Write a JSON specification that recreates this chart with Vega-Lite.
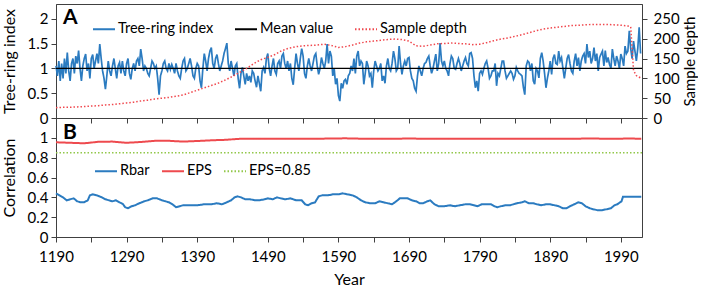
{
"$schema": "https://vega.github.io/schema/vega-lite/v6.json",
"padding": {"left": 0, "top": 3, "right": 0, "bottom": 0},
"config": {
  "font": "Lato",
  "view": {"stroke": "#404040", "strokeWidth": 1},
  "axis": {"grid": false, "domainColor": "#404040", "tickColor": "#404040", "labelColor": "#000000", "titleColor": "#000000", "labelFontSize": 15, "titleFontSize": 16, "titleFontWeight": "normal", "tickSize": 5, "labelPadding": 3, "labelOverlap": false, "labelBound": false, "labelFlush": false},
  "legend": {"labelFontSize": 14.5, "labelColor": "#000000", "symbolType": "stroke", "symbolStrokeWidth": 2, "symbolSize": 484, "padding": 0, "labelOffset": 2, "columnPadding": 17}
},
"datasets": {
  "ring": [
{"year":1190,"v":1.05},{"year":1192,"v":0.85},{"year":1194,"v":1.15},{"year":1196,"v":0.75},{"year":1198,"v":1.1},{"year":1200,"v":0.8},{"year":1202,"v":1.2},{"year":1204,"v":0.9},{"year":1206,"v":1.32},{"year":1208,"v":0.95},
{"year":1210,"v":0.75},{"year":1212,"v":1.1},{"year":1214,"v":1.2},{"year":1216,"v":0.9},{"year":1218,"v":1.25},{"year":1220,"v":1.1},{"year":1222,"v":1.36},{"year":1224,"v":1.0},{"year":1226,"v":0.75},{"year":1228,"v":1.05},
{"year":1230,"v":1.2},{"year":1232,"v":1.29},{"year":1234,"v":0.95},{"year":1236,"v":1.1},{"year":1238,"v":0.8},{"year":1240,"v":1.2},{"year":1242,"v":1.28},{"year":1244,"v":1.0},{"year":1246,"v":1.15},{"year":1248,"v":1.3},
{"year":1250,"v":1.1},{"year":1252,"v":1.49},{"year":1254,"v":1.2},{"year":1256,"v":0.95},{"year":1258,"v":0.8},{"year":1260,"v":0.58},{"year":1262,"v":0.85},{"year":1264,"v":1.15},{"year":1266,"v":0.95},{"year":1268,"v":0.85},
{"year":1270,"v":1.05},{"year":1272,"v":1.2},{"year":1274,"v":1.0},{"year":1276,"v":0.8},{"year":1278,"v":1.05},{"year":1280,"v":1.12},{"year":1282,"v":0.9},{"year":1284,"v":1.15},{"year":1286,"v":0.95},{"year":1288,"v":0.85},
{"year":1290,"v":1.1},{"year":1292,"v":1.2},{"year":1294,"v":0.9},{"year":1296,"v":0.78},{"year":1298,"v":1.0},{"year":1300,"v":1.1},{"year":1302,"v":0.95},{"year":1304,"v":1.15},{"year":1306,"v":1.2},{"year":1308,"v":1.05},
{"year":1310,"v":1.39},{"year":1312,"v":1.2},{"year":1314,"v":0.95},{"year":1316,"v":1.05},{"year":1318,"v":1.0},{"year":1320,"v":0.9},{"year":1322,"v":0.85},{"year":1324,"v":1.0},{"year":1326,"v":1.15},{"year":1328,"v":1.1},
{"year":1330,"v":1.0},{"year":1332,"v":1.05},{"year":1334,"v":0.8},{"year":1336,"v":0.47},{"year":1338,"v":0.85},{"year":1340,"v":0.95},{"year":1342,"v":1.1},{"year":1344,"v":1.15},{"year":1346,"v":1.0},{"year":1348,"v":0.95},
{"year":1350,"v":1.1},{"year":1352,"v":0.98},{"year":1354,"v":1.08},{"year":1356,"v":1.0},{"year":1358,"v":0.9},{"year":1360,"v":1.1},{"year":1362,"v":0.95},{"year":1364,"v":0.85},{"year":1366,"v":0.8},{"year":1368,"v":1.0},
{"year":1370,"v":1.15},{"year":1372,"v":1.2},{"year":1374,"v":0.95},{"year":1376,"v":1.0},{"year":1378,"v":1.1},{"year":1380,"v":1.2},{"year":1382,"v":1.05},{"year":1384,"v":0.85},{"year":1386,"v":0.8},{"year":1388,"v":1.0},
{"year":1390,"v":1.1},{"year":1392,"v":1.05},{"year":1394,"v":0.75},{"year":1396,"v":0.61},{"year":1398,"v":1.0},{"year":1400,"v":1.3},{"year":1402,"v":1.15},{"year":1404,"v":0.95},{"year":1406,"v":1.2},{"year":1408,"v":1.35},
{"year":1410,"v":1.42},{"year":1412,"v":1.1},{"year":1414,"v":1.0},{"year":1416,"v":1.2},{"year":1418,"v":1.28},{"year":1420,"v":1.1},{"year":1422,"v":0.95},{"year":1424,"v":1.05},{"year":1426,"v":1.15},{"year":1428,"v":1.3},
{"year":1430,"v":1.4},{"year":1432,"v":1.51},{"year":1434,"v":1.1},{"year":1436,"v":0.95},{"year":1438,"v":1.15},{"year":1440,"v":1.0},{"year":1442,"v":0.85},{"year":1444,"v":1.05},{"year":1446,"v":1.1},{"year":1448,"v":0.8},
{"year":1450,"v":0.6},{"year":1452,"v":0.9},{"year":1454,"v":1.02},{"year":1456,"v":0.85},{"year":1458,"v":0.68},{"year":1460,"v":0.9},{"year":1462,"v":0.75},{"year":1464,"v":0.85},{"year":1466,"v":0.72},{"year":1468,"v":0.95},
{"year":1470,"v":0.9},{"year":1472,"v":0.75},{"year":1474,"v":0.62},{"year":1476,"v":0.85},{"year":1478,"v":0.7},{"year":1480,"v":0.54},{"year":1482,"v":0.95},{"year":1484,"v":1.02},{"year":1486,"v":0.9},{"year":1488,"v":1.2},
{"year":1490,"v":1.3},{"year":1492,"v":1.0},{"year":1494,"v":0.85},{"year":1496,"v":1.05},{"year":1498,"v":1.2},{"year":1500,"v":0.95},{"year":1502,"v":0.88},{"year":1504,"v":1.1},{"year":1506,"v":1.15},{"year":1508,"v":1.0},
{"year":1510,"v":1.25},{"year":1512,"v":1.3},{"year":1514,"v":1.1},{"year":1516,"v":1.0},{"year":1518,"v":1.15},{"year":1520,"v":0.95},{"year":1522,"v":1.1},{"year":1524,"v":0.8},{"year":1526,"v":0.67},{"year":1528,"v":1.0},
{"year":1530,"v":1.3},{"year":1532,"v":1.1},{"year":1534,"v":0.95},{"year":1536,"v":1.2},{"year":1538,"v":1.4},{"year":1540,"v":1.25},{"year":1542,"v":0.9},{"year":1544,"v":0.8},{"year":1546,"v":1.05},{"year":1548,"v":1.2},
{"year":1550,"v":1.05},{"year":1552,"v":0.95},{"year":1554,"v":1.1},{"year":1556,"v":1.25},{"year":1558,"v":1.3},{"year":1560,"v":1.05},{"year":1562,"v":0.88},{"year":1564,"v":1.0},{"year":1566,"v":1.22},{"year":1568,"v":1.1},
{"year":1570,"v":1.0},{"year":1572,"v":1.15},{"year":1574,"v":1.49},{"year":1576,"v":1.1},{"year":1578,"v":1.35},{"year":1580,"v":1.25},{"year":1582,"v":0.85},{"year":1584,"v":1.0},{"year":1586,"v":0.68},{"year":1588,"v":0.8},
{"year":1590,"v":0.45},{"year":1592,"v":0.34},{"year":1594,"v":0.7},{"year":1596,"v":0.6},{"year":1598,"v":0.75},{"year":1600,"v":0.78},{"year":1602,"v":0.68},{"year":1604,"v":0.85},{"year":1606,"v":0.9},{"year":1608,"v":1.05},
{"year":1610,"v":0.95},{"year":1612,"v":1.2},{"year":1614,"v":0.9},{"year":1616,"v":1.25},{"year":1618,"v":1.35},{"year":1620,"v":1.05},{"year":1622,"v":1.15},{"year":1624,"v":1.1},{"year":1626,"v":0.68},{"year":1628,"v":0.9},
{"year":1630,"v":1.15},{"year":1632,"v":1.05},{"year":1634,"v":0.85},{"year":1636,"v":0.9},{"year":1638,"v":0.61},{"year":1640,"v":0.95},{"year":1642,"v":1.15},{"year":1644,"v":1.05},{"year":1646,"v":0.95},{"year":1648,"v":1.0},
{"year":1650,"v":1.1},{"year":1652,"v":0.75},{"year":1654,"v":0.85},{"year":1656,"v":0.7},{"year":1658,"v":1.05},{"year":1660,"v":1.2},{"year":1662,"v":1.0},{"year":1664,"v":0.95},{"year":1666,"v":1.1},{"year":1668,"v":1.35},
{"year":1670,"v":1.2},{"year":1672,"v":0.95},{"year":1674,"v":1.0},{"year":1676,"v":1.45},{"year":1678,"v":1.1},{"year":1680,"v":0.88},{"year":1682,"v":1.05},{"year":1684,"v":1.15},{"year":1686,"v":1.05},{"year":1688,"v":1.2},
{"year":1690,"v":1.22},{"year":1692,"v":0.95},{"year":1694,"v":0.8},{"year":1696,"v":0.75},{"year":1698,"v":0.6},{"year":1700,"v":0.54},{"year":1702,"v":0.85},{"year":1704,"v":1.05},{"year":1706,"v":0.95},{"year":1708,"v":0.85},
{"year":1710,"v":1.0},{"year":1712,"v":1.1},{"year":1714,"v":1.12},{"year":1716,"v":1.2},{"year":1718,"v":1.25},{"year":1720,"v":1.05},{"year":1722,"v":0.9},{"year":1724,"v":1.0},{"year":1726,"v":1.15},{"year":1728,"v":1.29},
{"year":1730,"v":0.95},{"year":1732,"v":1.1},{"year":1734,"v":1.51},{"year":1736,"v":1.15},{"year":1738,"v":1.05},{"year":1740,"v":1.15},{"year":1742,"v":1.0},{"year":1744,"v":0.95},{"year":1746,"v":0.85},{"year":1748,"v":1.1},
{"year":1750,"v":1.25},{"year":1752,"v":1.2},{"year":1754,"v":1.0},{"year":1756,"v":0.98},{"year":1758,"v":1.1},{"year":1760,"v":1.2},{"year":1762,"v":1.1},{"year":1764,"v":0.95},{"year":1766,"v":1.05},{"year":1768,"v":1.15},
{"year":1770,"v":1.22},{"year":1772,"v":1.1},{"year":1774,"v":1.05},{"year":1776,"v":1.3},{"year":1778,"v":1.32},{"year":1780,"v":1.2},{"year":1782,"v":0.85},{"year":1784,"v":0.61},{"year":1786,"v":0.75},{"year":1788,"v":0.54},
{"year":1790,"v":0.9},{"year":1792,"v":0.95},{"year":1794,"v":0.88},{"year":1796,"v":1.0},{"year":1798,"v":1.1},{"year":1800,"v":1.15},{"year":1802,"v":1.0},{"year":1804,"v":0.8},{"year":1806,"v":0.85},{"year":1808,"v":0.95},
{"year":1810,"v":0.95},{"year":1812,"v":1.1},{"year":1814,"v":0.65},{"year":1816,"v":0.9},{"year":1818,"v":0.85},{"year":1820,"v":1.0},{"year":1822,"v":1.15},{"year":1824,"v":1.15},{"year":1826,"v":0.95},{"year":1828,"v":0.8},
{"year":1830,"v":0.85},{"year":1832,"v":0.9},{"year":1834,"v":0.95},{"year":1836,"v":0.9},{"year":1838,"v":0.78},{"year":1840,"v":0.85},{"year":1842,"v":1.02},{"year":1844,"v":0.95},{"year":1846,"v":0.9},{"year":1848,"v":0.88},
{"year":1850,"v":0.85},{"year":1852,"v":0.62},{"year":1854,"v":0.47},{"year":1856,"v":1.05},{"year":1858,"v":1.15},{"year":1860,"v":1.12},{"year":1862,"v":0.95},{"year":1864,"v":1.1},{"year":1866,"v":0.75},{"year":1868,"v":0.68},
{"year":1870,"v":1.0},{"year":1872,"v":0.95},{"year":1874,"v":0.81},{"year":1876,"v":1.2},{"year":1878,"v":1.32},{"year":1880,"v":1.15},{"year":1882,"v":0.9},{"year":1884,"v":0.61},{"year":1886,"v":0.8},{"year":1888,"v":0.95},
{"year":1890,"v":1.15},{"year":1892,"v":0.88},{"year":1894,"v":1.2},{"year":1896,"v":1.28},{"year":1898,"v":1.1},{"year":1900,"v":1.08},{"year":1902,"v":1.35},{"year":1904,"v":1.15},{"year":1906,"v":1.22},{"year":1908,"v":1.0},
{"year":1910,"v":0.8},{"year":1912,"v":1.0},{"year":1914,"v":1.2},{"year":1916,"v":1.28},{"year":1918,"v":1.1},{"year":1920,"v":0.95},{"year":1922,"v":0.9},{"year":1924,"v":1.15},{"year":1926,"v":1.3},{"year":1928,"v":1.05},
{"year":1930,"v":1.22},{"year":1932,"v":0.95},{"year":1934,"v":1.15},{"year":1936,"v":1.25},{"year":1938,"v":1.3},{"year":1940,"v":1.1},{"year":1942,"v":1.49},{"year":1944,"v":1.22},{"year":1946,"v":1.35},{"year":1948,"v":1.1},
{"year":1950,"v":1.2},{"year":1952,"v":1.42},{"year":1954,"v":1.15},{"year":1956,"v":1.3},{"year":1958,"v":0.95},{"year":1960,"v":1.22},{"year":1962,"v":1.29},{"year":1964,"v":1.35},{"year":1966,"v":1.05},{"year":1968,"v":1.36},
{"year":1970,"v":1.12},{"year":1972,"v":1.22},{"year":1974,"v":1.08},{"year":1976,"v":1.0},{"year":1978,"v":1.39},{"year":1980,"v":1.2},{"year":1982,"v":1.05},{"year":1984,"v":1.25},{"year":1986,"v":1.15},{"year":1988,"v":1.0},
{"year":1990,"v":1.29},{"year":1992,"v":1.2},{"year":1994,"v":1.05},{"year":1996,"v":1.45},{"year":1998,"v":1.3},{"year":2000,"v":1.35},{"year":2002,"v":1.76},{"year":2004,"v":1.4},{"year":2006,"v":1.2},{"year":2008,"v":1.55},
{"year":2010,"v":1.35},{"year":2012,"v":1.15},{"year":2014,"v":1.4},{"year":2016,"v":1.83},{"year":2018,"v":1.3}
  ],
  "depth": [
{"year":1190,"d":26},{"year":1200,"d":27},{"year":1210,"d":27},{"year":1220,"d":28},{"year":1230,"d":29},{"year":1240,"d":30},{"year":1250,"d":31},{"year":1260,"d":33},{"year":1270,"d":34},{"year":1280,"d":36},
{"year":1290,"d":38},{"year":1300,"d":40},{"year":1310,"d":43},{"year":1320,"d":45},{"year":1330,"d":48},{"year":1340,"d":50},{"year":1350,"d":52},{"year":1360,"d":55},{"year":1370,"d":58},{"year":1380,"d":64},
{"year":1390,"d":70},{"year":1400,"d":76},{"year":1410,"d":82},{"year":1420,"d":88},{"year":1430,"d":96},{"year":1440,"d":105},{"year":1450,"d":115},{"year":1460,"d":125},{"year":1470,"d":137},{"year":1480,"d":147},
{"year":1490,"d":153},{"year":1500,"d":160},{"year":1510,"d":170},{"year":1520,"d":176},{"year":1530,"d":180},{"year":1540,"d":182},{"year":1550,"d":183},{"year":1560,"d":184},{"year":1570,"d":186},{"year":1580,"d":183},
{"year":1590,"d":178},{"year":1600,"d":180},{"year":1610,"d":184},{"year":1620,"d":189},{"year":1630,"d":192},{"year":1640,"d":194},{"year":1650,"d":196},{"year":1660,"d":198},{"year":1670,"d":199},{"year":1680,"d":198},
{"year":1690,"d":194},{"year":1700,"d":182},{"year":1710,"d":181},{"year":1720,"d":184},{"year":1730,"d":187},{"year":1740,"d":188},{"year":1750,"d":189},{"year":1760,"d":188},{"year":1770,"d":187},{"year":1780,"d":185},
{"year":1790,"d":186},{"year":1800,"d":190},{"year":1810,"d":195},{"year":1820,"d":199},{"year":1830,"d":202},{"year":1840,"d":206},{"year":1850,"d":210},{"year":1860,"d":215},{"year":1870,"d":220},{"year":1880,"d":224},
{"year":1890,"d":227},{"year":1900,"d":229},{"year":1910,"d":231},{"year":1920,"d":233},{"year":1930,"d":234},{"year":1940,"d":235},{"year":1950,"d":236},{"year":1960,"d":236},{"year":1970,"d":236},{"year":1980,"d":235},
{"year":1990,"d":234},{"year":2000,"d":232},{"year":2004,"d":230},{"year":2006,"d":175},{"year":2008,"d":120},{"year":2012,"d":107},{"year":2018,"d":101}
  ],
  "rbar": [
{"year":1190,"r":0.44},{"year":1195,"r":0.42},{"year":1200,"r":0.40},{"year":1205,"r":0.37},{"year":1210,"r":0.38},{"year":1215,"r":0.39},{"year":1220,"r":0.36},{"year":1225,"r":0.35},{"year":1230,"r":0.35},{"year":1235,"r":0.37},
{"year":1238,"r":0.42},{"year":1242,"r":0.43},{"year":1248,"r":0.42},{"year":1255,"r":0.40},{"year":1260,"r":0.38},{"year":1265,"r":0.37},{"year":1270,"r":0.36},{"year":1275,"r":0.37},{"year":1280,"r":0.35},{"year":1285,"r":0.33},
{"year":1288,"r":0.30},{"year":1292,"r":0.29},{"year":1297,"r":0.31},{"year":1302,"r":0.32},{"year":1308,"r":0.34},{"year":1315,"r":0.36},{"year":1320,"r":0.37},{"year":1327,"r":0.39},{"year":1333,"r":0.39},{"year":1340,"r":0.37},
{"year":1345,"r":0.36},{"year":1350,"r":0.35},{"year":1355,"r":0.33},{"year":1360,"r":0.30},{"year":1365,"r":0.31},{"year":1370,"r":0.32},{"year":1380,"r":0.32},{"year":1390,"r":0.32},{"year":1400,"r":0.33},{"year":1410,"r":0.33},
{"year":1418,"r":0.34},{"year":1425,"r":0.33},{"year":1432,"r":0.35},{"year":1438,"r":0.37},{"year":1443,"r":0.40},{"year":1447,"r":0.41},{"year":1452,"r":0.40},{"year":1458,"r":0.38},{"year":1465,"r":0.38},{"year":1472,"r":0.37},
{"year":1478,"r":0.37},{"year":1485,"r":0.38},{"year":1490,"r":0.39},{"year":1497,"r":0.38},{"year":1503,"r":0.40},{"year":1508,"r":0.39},{"year":1515,"r":0.38},{"year":1522,"r":0.39},{"year":1530,"r":0.37},{"year":1538,"r":0.37},
{"year":1543,"r":0.33},{"year":1547,"r":0.32},{"year":1552,"r":0.34},{"year":1557,"r":0.35},{"year":1562,"r":0.41},{"year":1567,"r":0.42},{"year":1575,"r":0.42},{"year":1582,"r":0.43},{"year":1590,"r":0.43},{"year":1596,"r":0.44},
{"year":1603,"r":0.43},{"year":1610,"r":0.42},{"year":1616,"r":0.40},{"year":1622,"r":0.37},{"year":1628,"r":0.35},{"year":1635,"r":0.34},{"year":1642,"r":0.34},{"year":1648,"r":0.36},{"year":1654,"r":0.35},{"year":1660,"r":0.34},
{"year":1666,"r":0.33},{"year":1672,"r":0.36},{"year":1677,"r":0.39},{"year":1683,"r":0.39},{"year":1688,"r":0.39},{"year":1694,"r":0.37},{"year":1700,"r":0.36},{"year":1705,"r":0.34},{"year":1710,"r":0.34},{"year":1716,"r":0.36},
{"year":1720,"r":0.37},{"year":1726,"r":0.33},{"year":1732,"r":0.31},{"year":1740,"r":0.31},{"year":1748,"r":0.32},{"year":1755,"r":0.31},{"year":1762,"r":0.32},{"year":1770,"r":0.33},{"year":1776,"r":0.33},{"year":1782,"r":0.32},
{"year":1787,"r":0.31},{"year":1793,"r":0.33},{"year":1800,"r":0.33},{"year":1806,"r":0.33},{"year":1811,"r":0.31},{"year":1815,"r":0.30},{"year":1820,"r":0.31},{"year":1827,"r":0.32},{"year":1833,"r":0.32},{"year":1838,"r":0.33},
{"year":1843,"r":0.34},{"year":1850,"r":0.35},{"year":1854,"r":0.36},{"year":1860,"r":0.34},{"year":1866,"r":0.34},{"year":1871,"r":0.33},{"year":1877,"r":0.32},{"year":1884,"r":0.33},{"year":1890,"r":0.33},{"year":1896,"r":0.32},
{"year":1902,"r":0.31},{"year":1908,"r":0.29},{"year":1913,"r":0.29},{"year":1918,"r":0.31},{"year":1924,"r":0.33},{"year":1930,"r":0.35},{"year":1935,"r":0.34},{"year":1940,"r":0.31},{"year":1946,"r":0.29},{"year":1951,"r":0.28},
{"year":1957,"r":0.27},{"year":1963,"r":0.27},{"year":1970,"r":0.28},{"year":1976,"r":0.29},{"year":1981,"r":0.32},{"year":1985,"r":0.33},{"year":1989,"r":0.35},{"year":1991,"r":0.36},{"year":1993,"r":0.405},{"year":2000,"r":0.405},
{"year":2010,"r":0.405},{"year":2019,"r":0.405}
  ],
  "eps": [
{"year":1190,"e":0.955},{"year":1210,"e":0.95},{"year":1230,"e":0.945},{"year":1250,"e":0.96},{"year":1270,"e":0.962},{"year":1290,"e":0.95},{"year":1310,"e":0.958},{"year":1330,"e":0.97},{"year":1350,"e":0.97},{"year":1370,"e":0.962},
{"year":1390,"e":0.968},{"year":1410,"e":0.975},{"year":1430,"e":0.98},{"year":1450,"e":0.99},{"year":1470,"e":0.99},{"year":1500,"e":0.99},{"year":1550,"e":0.99},{"year":1570,"e":0.992},{"year":1600,"e":0.995},{"year":1630,"e":0.99},
{"year":1660,"e":0.99},{"year":1690,"e":0.993},{"year":1720,"e":0.99},{"year":1800,"e":0.99},{"year":1850,"e":0.992},{"year":1900,"e":0.99},{"year":1950,"e":0.993},{"year":1980,"e":0.99},{"year":2000,"e":0.993},{"year":2010,"e":0.992},
{"year":2019,"e":0.99}
  ]
},
"spacing": 0,
"bounds": "flush",
"resolve": {"scale": {"color": "independent", "strokeDash": "independent"}},
"vconcat": [
  {
    "width": 586,
    "height": 114,
    "resolve": {"scale": {"y": "independent"}},
    "layer": [
      {
        "layer": [
          {
            "data": {"name": "ring"},
            "mark": {"type": "line", "strokeWidth": 1.7},
            "encoding": {
              "x": {"field": "year", "type": "quantitative", "scale": {"domain": [1190, 2020], "nice": false, "zero": false}, "axis": {"labels": false, "title": null, "values": [1190,1240,1290,1340,1390,1440,1490,1540,1590,1640,1690,1740,1790,1840,1890,1940,1990]}},
              "y": {"field": "v", "type": "quantitative", "scale": {"domain": [0, 2.3], "nice": false, "zero": false}, "axis": {"title": "Tree-ring index", "values": [0, 0.5, 1, 1.5, 2], "labelExpr": "format(datum.value, '~g')", "labelOverlap": false, "titlePadding": 10}},
              "color": {"datum": "Tree-ring index", "scale": {"domain": ["Tree-ring index", "Mean value", "Sample depth"], "range": ["#2B7BC0", "#000000", "#F0484E"]}, "legend": {"title": null, "orient": "none", "direction": "horizontal", "legendX": 36, "legendY": 13}},
              "strokeDash": {"datum": "Tree-ring index", "scale": {"domain": ["Tree-ring index", "Mean value", "Sample depth"], "range": [[1, 0], [1, 0], [1.5, 2]]}, "legend": {"title": null, "orient": "none", "direction": "horizontal", "legendX": 36, "legendY": 13}}
            }
          },
          {
            "data": {"values": [{}]},
            "mark": {"type": "rule", "strokeWidth": 1.2},
            "encoding": {
              "y": {"datum": 1, "type": "quantitative", "scale": {"domain": [0, 2.3], "nice": false, "zero": false}, "axis": {"title": "Tree-ring index", "values": [0, 0.5, 1, 1.5, 2], "labelExpr": "format(datum.value, '~g')", "labelOverlap": false, "titlePadding": 10}},
              "color": {"datum": "Mean value", "scale": {"domain": ["Tree-ring index", "Mean value", "Sample depth"], "range": ["#2B7BC0", "#000000", "#F0484E"]}},
              "strokeDash": {"datum": "Mean value", "scale": {"domain": ["Tree-ring index", "Mean value", "Sample depth"], "range": [[1, 0], [1, 0], [1.5, 2]]}}
            }
          },
          {
            "data": {"values": [{}]},
            "mark": {"type": "text", "fontSize": 21, "fontWeight": "bold", "align": "left", "baseline": "alphabetic", "color": "#000000"},
            "encoding": {
              "x": {"datum": 1200, "type": "quantitative", "scale": {"domain": [1190, 2020], "nice": false, "zero": false}, "axis": {"labels": false, "title": null, "values": [1190,1240,1290,1340,1390,1440,1490,1540,1590,1640,1690,1740,1790,1840,1890,1940,1990]}},
              "y": {"datum": 1.9, "type": "quantitative", "scale": {"domain": [0, 2.3], "nice": false, "zero": false}, "axis": {"title": "Tree-ring index", "values": [0, 0.5, 1, 1.5, 2], "labelExpr": "format(datum.value, '~g')", "labelOverlap": false, "titlePadding": 10}},
              "text": {"value": "A"}
            }
          }
        ]
      },
      {
        "data": {"name": "depth"},
        "mark": {"type": "line", "strokeWidth": 1.5},
        "encoding": {
          "x": {"field": "year", "type": "quantitative", "scale": {"domain": [1190, 2020], "nice": false, "zero": false}, "axis": {"labels": false, "title": null, "values": [1190,1240,1290,1340,1390,1440,1490,1540,1590,1640,1690,1740,1790,1840,1890,1940,1990]}},
          "y": {"field": "d", "type": "quantitative", "scale": {"domain": [0, 287.5], "nice": false, "zero": false}, "axis": {"orient": "right", "title": "Sample depth", "titleAngle": 270, "titleBaseline": "top", "values": [0, 50, 100, 150, 200, 250], "labelOverlap": false, "labelPadding": 6, "titlePadding": 3, "titleFontSize": 15}},
          "color": {"datum": "Sample depth", "scale": {"domain": ["Tree-ring index", "Mean value", "Sample depth"], "range": ["#2B7BC0", "#000000", "#F0484E"]}},
          "strokeDash": {"datum": "Sample depth", "scale": {"domain": ["Tree-ring index", "Mean value", "Sample depth"], "range": [[1, 0], [1, 0], [1.5, 2]]}}
        }
      }
    ]
  },
  {
    "width": 586,
    "height": 119,
    "layer": [
      {
        "data": {"name": "rbar"},
        "mark": {"type": "line", "strokeWidth": 2},
        "encoding": {
          "x": {"field": "year", "type": "quantitative", "scale": {"domain": [1190, 2020], "nice": false, "zero": false}, "axis": {"title": "Year", "titlePadding": 7, "values": [1190,1240,1290,1340,1390,1440,1490,1540,1590,1640,1690,1740,1790,1840,1890,1940,1990], "labelExpr": "(datum.value - 1190) % 100 === 0 ? format(datum.value, 'd') : ''", "labelPadding": 7}},
          "y": {"field": "r", "type": "quantitative", "scale": {"domain": [0, 1.2], "nice": false, "zero": false}, "axis": {"title": "Correlation", "values": [0, 0.2, 0.4, 0.6, 0.8, 1], "labelExpr": "format(datum.value, '~g')", "labelOverlap": false, "titlePadding": 10}},
          "color": {"datum": "Rbar", "scale": {"domain": ["Rbar", "EPS", "EPS=0.85"], "range": ["#2B7BC0", "#EE4A4E", "#92C84A"]}, "legend": {"title": null, "orient": "none", "direction": "horizontal", "legendX": 38, "legendY": 41, "columnPadding": 8}},
          "strokeDash": {"datum": "Rbar", "scale": {"domain": ["Rbar", "EPS", "EPS=0.85"], "range": [[1, 0], [1, 0], [1.5, 2]]}, "legend": {"title": null, "orient": "none", "direction": "horizontal", "legendX": 38, "legendY": 41, "columnPadding": 8}}
        }
      },
      {
        "data": {"name": "eps"},
        "mark": {"type": "line", "strokeWidth": 2},
        "encoding": {
          "x": {"field": "year", "type": "quantitative", "scale": {"domain": [1190, 2020], "nice": false, "zero": false}, "axis": {"title": "Year", "titlePadding": 7, "values": [1190,1240,1290,1340,1390,1440,1490,1540,1590,1640,1690,1740,1790,1840,1890,1940,1990], "labelExpr": "(datum.value - 1190) % 100 === 0 ? format(datum.value, 'd') : ''", "labelPadding": 7}},
          "y": {"field": "e", "type": "quantitative", "scale": {"domain": [0, 1.2], "nice": false, "zero": false}, "axis": {"title": "Correlation", "values": [0, 0.2, 0.4, 0.6, 0.8, 1], "labelExpr": "format(datum.value, '~g')", "labelOverlap": false, "titlePadding": 10}},
          "color": {"datum": "EPS", "scale": {"domain": ["Rbar", "EPS", "EPS=0.85"], "range": ["#2B7BC0", "#EE4A4E", "#92C84A"]}},
          "strokeDash": {"datum": "EPS", "scale": {"domain": ["Rbar", "EPS", "EPS=0.85"], "range": [[1, 0], [1, 0], [1.5, 2]]}}
        }
      },
      {
        "data": {"values": [{}]},
        "mark": {"type": "rule", "strokeWidth": 1.5},
        "encoding": {
          "y": {"datum": 0.85, "type": "quantitative", "scale": {"domain": [0, 1.2], "nice": false, "zero": false}, "axis": {"title": "Correlation", "values": [0, 0.2, 0.4, 0.6, 0.8, 1], "labelExpr": "format(datum.value, '~g')", "labelOverlap": false, "titlePadding": 10}},
          "color": {"datum": "EPS=0.85", "scale": {"domain": ["Rbar", "EPS", "EPS=0.85"], "range": ["#2B7BC0", "#EE4A4E", "#92C84A"]}},
          "strokeDash": {"datum": "EPS=0.85", "scale": {"domain": ["Rbar", "EPS", "EPS=0.85"], "range": [[1, 0], [1, 0], [1.5, 2]]}}
        }
      },
      {
        "data": {"values": [{}]},
        "mark": {"type": "text", "fontSize": 21, "fontWeight": "bold", "align": "left", "baseline": "alphabetic", "color": "#000000"},
        "encoding": {
          "x": {"datum": 1200, "type": "quantitative", "scale": {"domain": [1190, 2020], "nice": false, "zero": false}, "axis": {"title": "Year", "titlePadding": 7, "values": [1190,1240,1290,1340,1390,1440,1490,1540,1590,1640,1690,1740,1790,1840,1890,1940,1990], "labelExpr": "(datum.value - 1190) % 100 === 0 ? format(datum.value, 'd') : ''", "labelPadding": 7}},
          "y": {"datum": 0.985, "type": "quantitative", "scale": {"domain": [0, 1.2], "nice": false, "zero": false}, "axis": {"title": "Correlation", "values": [0, 0.2, 0.4, 0.6, 0.8, 1], "labelExpr": "format(datum.value, '~g')", "labelOverlap": false, "titlePadding": 10}},
          "text": {"value": "B"}
        }
      }
    ]
  }
]
}
